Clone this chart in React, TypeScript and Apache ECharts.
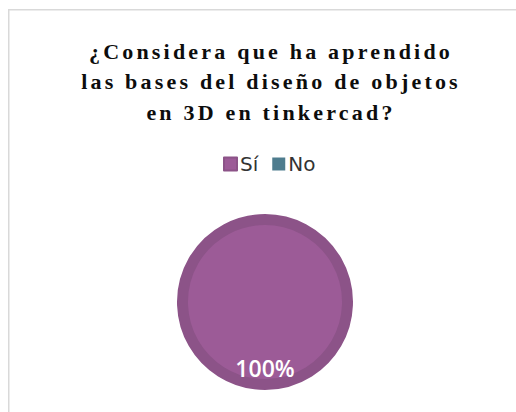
import React, { useEffect, useRef } from "react";
import * as echarts from "echarts";

const titleLines = [
  "¿Considera que ha aprendido",
  "las bases del diseño de objetos",
  "en 3D en tinkercad?",
];
const categories = ["Sí", "No"];
const values = [100, 0];
const colors = ["#9c5b97", "#4e7c8e"];
const borderColors = ["#8c5388", "#46707f"];

export default function App() {
  const ref = useRef<HTMLDivElement>(null);

  useEffect(() => {
    if (!ref.current) return;
    const chart = echarts.init(ref.current, undefined, { renderer: "svg" });
    const data = categories.map((name, i) => ({
      name,
      value: values[i],
      itemStyle: {
        color: colors[i],
        borderColor: borderColors[i],
        borderWidth: values[i] > 0 ? 11 : 0,
      },
    }));
    chart.setOption({
      animation: false,
      graphic: [
        {
          type: "polyline",
          shape: { points: [[8.75, 1000], [8.75, 9.75], [1000, 9.75]] },
          style: { fill: "none", stroke: "#d9d9d9", lineWidth: 1.5 },
          silent: true,
          z: -10,
        },
      ],
      title: {
        text: titleLines.join("\n"),
        left: 266,
        top: 31,
        textAlign: "center",
        textStyle: {
          fontFamily: '"Liberation Serif"',
          fontWeight: "bold",
          fontSize: 22,
          lineHeight: 30.5,
          color: "#0d0d0d",
        },
      },
      legend: {
        data: categories,
        left: 218,
        top: 149,
        itemWidth: 13,
        itemHeight: 13,
        itemGap: 14,
        icon: "rect",
        selectedMode: false,
        textStyle: {
          fontFamily: '"DejaVu Sans"',
          fontSize: 20,
          color: "#333333",
          padding: [0, 0, 0, -2],
        },
      },
      series: [
        {
          type: "pie",
          center: [265, 302],
          radius: [0, 82.5],
          startAngle: 90,
          data,
          label: {
            show: true,
            position: "inside",
            formatter: (p: any) => (p.value > 0 ? `${Math.round(p.percent)}%` : ""),
            color: "#ffffff",
            fontFamily: '"Open Sans"',
            fontWeight: 600,
            fontSize: 23,
          },
          labelLayout: { dy: 22 },
          labelLine: { show: false },
          emphasis: { disabled: true },
        },
      ],
    });
    return () => chart.dispose();
  }, []);

  return (
    <>
      <style>{`body { margin: 0; overflow: hidden; } svg text[style*="Liberation Serif"] { letter-spacing: 3.2px; }`}</style>
      <div ref={ref} style={{ width: 516, height: 412 }} />
    </>
  );
}
